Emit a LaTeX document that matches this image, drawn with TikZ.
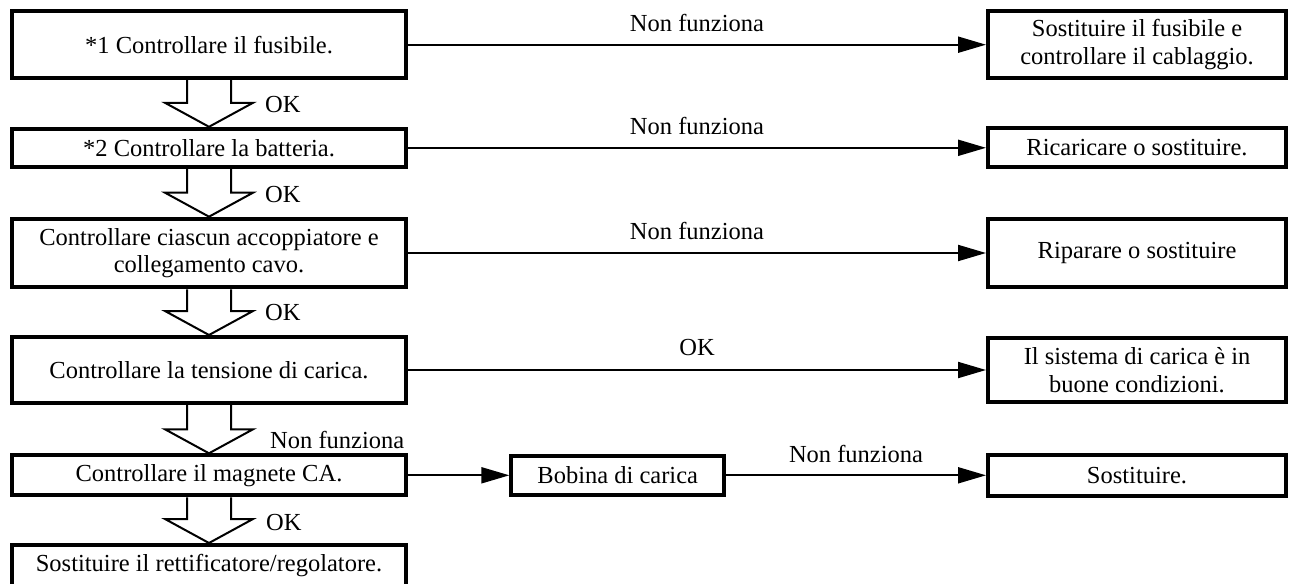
\documentclass[tikz,border=0pt]{standalone}
\usepackage{fontspec}
\setmainfont{Liberation Serif}
\usetikzlibrary{arrows.meta,calc}
\tikzset{
  txt/.style={font=\fontsize{24.5}{27.5}\selectfont},
  box/.style={txt, draw, line width=4pt, inner sep=0pt, align=center},
  lbl/.style={txt, inner sep=0pt},
  conn/.style={line width=2pt, -{Triangle[length=28pt,width=16pt]}},
  hollow/.style={line width=2pt, line join=miter},
}
\newcommand\hollowarr[2]{%
  \draw[hollow] ([xshift=-22pt]#1.south) -- ([xshift=-22pt,yshift=24pt]#2.north)
    -- ([xshift=-44pt,yshift=24pt]#2.north) -- (#2.north)
    -- ([xshift=44pt,yshift=24pt]#2.north) -- ([xshift=22pt,yshift=24pt]#2.north)
    -- ([xshift=22pt]#1.south);}
\begin{document}
\begin{tikzpicture}[x=1pt,y=-1pt]
\useasboundingbox (0,0) rectangle (1289,583);
\clip (0,0) rectangle (1289,583);
% left column
\node[box, minimum width=394pt, minimum height=67pt] (b1) at (209,44.7) {*1 Controllare il fusibile.};
\node[box, minimum width=394pt, minimum height=38pt] (b2) at (209,147.8) {*2 Controllare la batteria.};
\node[box, minimum width=394pt, minimum height=68.6pt] (b3) at (209,253) {Controllare ciascun accoppiatore e\\collegamento cavo.};
\node[box, minimum width=394pt, minimum height=66pt] (b4) at (209,370) {Controllare la tensione di carica.};
\node[box, minimum width=394pt, minimum height=40pt] (b5) at (209,475.3) {Controllare il magnete CA.};
\node[box, minimum width=394pt, minimum height=42pt] (b6) at (209,566) {\raisebox{5pt}{Sostituire il rettificatore/regolatore.}};
% right column
\node[box, minimum width=298pt, minimum height=67pt] (r1) at (1137,44.7) {Sostituire il fusibile e\\controllare il cablaggio.};
\node[box, minimum width=298pt, minimum height=39.3pt] (r2) at (1137,147.8) {Ricaricare o sostituire.};
\node[box, minimum width=298pt, minimum height=68.6pt] (r3) at (1137,253) {Riparare o sostituire};
\node[box, minimum width=298pt, minimum height=64.3pt] (r4) at (1137,370) {Il sistema di carica è in\\buone condizioni.};
\node[box, minimum width=212.7pt, minimum height=39.4pt] (bob) at (617.7,475.3) {Bobina di carica};
\node[box, minimum width=298pt, minimum height=41.6pt] (r5) at (1137,475.3) {Sostituire.};
% horizontal connectors
\draw[conn] (b1.east) -- node[lbl, yshift=22pt] {Non funziona} (r1.west);
\draw[conn] (b2.east) -- node[lbl, yshift=22pt] {Non funziona} (r2.west);
\draw[conn] (b3.east) -- node[lbl, yshift=22pt] {Non funziona} (r3.west);
\draw[conn] (b4.east) -- node[lbl, yshift=22pt] {OK} (r4.west);
\draw[conn] (b5.east) -- (bob.west);
\draw[conn] (bob.east) -- node[lbl, yshift=21pt] {Non funziona} (r5.west);
% hollow down arrows
\hollowarr{b1}{b2}
\hollowarr{b2}{b3}
\hollowarr{b3}{b4}
\hollowarr{b4}{b5}
\hollowarr{b5}{b6}
\node[lbl, anchor=west] (ok1) at ([xshift=56pt,yshift=22pt]b2.north) {OK};
\node[lbl, anchor=west] (ok2) at ([xshift=56pt,yshift=22pt]b3.north) {OK};
\node[lbl, anchor=west] (ok3) at ([xshift=56pt,yshift=22pt]b4.north) {OK};
\node[lbl, anchor=west] (nf4) at ([xshift=61pt,yshift=13pt]b5.north) {Non funziona};
\node[lbl, anchor=west] (ok5) at ([xshift=57pt,yshift=20pt]b6.north) {OK};
\end{tikzpicture}
\end{document}
